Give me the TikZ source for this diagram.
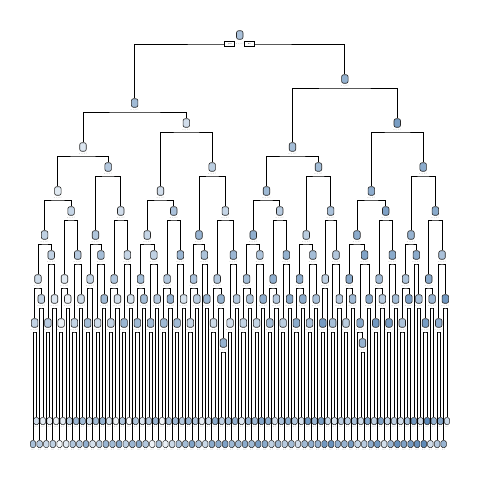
\documentclass[tikz,border=0pt]{standalone}
\definecolor{nodeblue}{RGB}{62,115,170}
\tikzset{
  innernode/.style={draw=black!85, line width=0.6pt, rounded corners=2pt, minimum width=6.5pt, minimum height=8.5pt, inner sep=0pt},
  leafnode/.style={draw=black!85, line width=0.5pt, rounded corners=1.6pt, minimum width=5.4pt, minimum height=7pt, inner sep=0pt},
  edge/.style={line width=0.75pt, black},
  tinylab/.style={font=\fontsize{1.8}{2}\selectfont, text=black!45, inner sep=0pt},
  yesno/.style={draw=black, fill=white, line width=0.6pt, minimum width=10pt, minimum height=5pt, inner sep=0pt, font=\fontsize{2}{2}\selectfont}
}
\newcount\leafctr
\begin{document}
\begin{tikzpicture}[x=1pt,y=-1pt]
\useasboundingbox (0,0) rectangle (480,480);
\fill[white] (0,0) rectangle (480,480);
\pgfmathsetseed{11}
\def\xz{33}
\def\dx{3.312}
% ---- layout of depth 6 ----
\global\leafctr=0
\foreach \jj in {0,...,63}{
  \pgfmathtruncatemacro\cval{(\jj==9||\jj==26||\jj==45||\jj==58)?1:((\jj==29||\jj==50)?3:2)}
  \edef\sval{\the\leafctr}
  \ifcase\cval\or
    \pgfmathsetmacro\xx{\xz+\sval*\dx}
  \or
    \pgfmathsetmacro\xx{\xz+(\sval+0.5)*\dx}
  \or
    \pgfmathsetmacro\xx{\xz+(\sval+0.75)*\dx}
  \fi
  \expandafter\xdef\csname nx-6-\jj\endcsname{\xx}
  \expandafter\xdef\csname cc-\jj\endcsname{\cval}
  \expandafter\xdef\csname cs-\jj\endcsname{\sval}
  \ifnum\cval=1
    \expandafter\xdef\csname cn-\jj\endcsname{leaf-\sval}
  \else
    \expandafter\xdef\csname cn-\jj\endcsname{n-6-\jj}
  \fi
  \global\advance\leafctr by \cval\relax
}
\xdef\nleaves{\the\leafctr}
% ---- layout of depths 5..0 ----
\foreach \dd in {5,4,3,2,1,0}{
  \pgfmathtruncatemacro\nmax{2^\dd-1}
  \pgfmathtruncatemacro\dn{\dd+1}
  \foreach \jj in {0,...,\nmax}{
    \pgfmathtruncatemacro\jl{2*\jj}
    \pgfmathtruncatemacro\jr{2*\jj+1}
    \edef\xa{\csname nx-\dn-\jl\endcsname}
    \edef\xb{\csname nx-\dn-\jr\endcsname}
    \pgfmathsetmacro\xx{(\xa+\xb)/2}
    \expandafter\xdef\csname nx-\dd-\jj\endcsname{\xx}
  }
}
% ---- leaves ----
\pgfmathtruncatemacro\lmax{\nleaves-1}
\foreach \ii in {0,...,\lmax}{
  \pgfmathsetmacro\xx{\xz+\ii*\dx}
  \pgfmathsetmacro\yy{mod(\ii,2)==0 ? 444 : 421}
  \pgfmathtruncatemacro\pp{max(4,min(88, 24+35*(\xx-33)/414 + 32*rand))}
  \node[leafnode, fill=nodeblue!\pp!white] (leaf-\ii) at (\xx,\yy) {};
  \node[tinylab] at (\xx,\yy+5.8) {0.5};
}
% ---- internal nodes depth 0..5 ----
\foreach \dd in {0,...,5}{
  \pgfmathtruncatemacro\nmax{2^\dd-1}
  \foreach \jj in {0,...,\nmax}{
    \edef\xx{\csname nx-\dd-\jj\endcsname}
    \pgfmathsetmacro\yy{\dd==0 ? 35 : 35+44*\dd+24*(1-mod(\jj,2))}
    \pgfmathtruncatemacro\pp{max(15,min(72, 30+28*(\xx-33)/414 + 16*rand))}
    \node[innernode, fill=nodeblue!\pp!white] (n-\dd-\jj) at (\xx,\yy) {};
    \coordinate (b-\dd-\jj) at (\xx,\yy+9);
    \ifnum\dd>0
      \node[tinylab] at (\xx,\yy+6.6) {x < 0.5};
    \fi
  }
}
% ---- depth 6 and 7 internal nodes ----
\foreach \jj in {0,...,63}{
  \edef\cval{\csname cc-\jj\endcsname}
  \edef\sval{\csname cs-\jj\endcsname}
  \edef\xx{\csname nx-6-\jj\endcsname}
  \pgfmathsetmacro\yy{35+44*6+24*(1-mod(\jj,2))}
  \pgfmathtruncatemacro\pp{max(10,min(78, 26+38*(\xx-33)/414 + 20*rand))}
  \ifnum\cval>1
    \node[innernode, fill=nodeblue!\pp!white] (n-6-\jj) at (\xx,\yy) {};
    \coordinate (b-6-\jj) at (\xx,\yy+9);
    \node[tinylab] at (\xx,\yy+6.6) {x < 0.5};
  \fi
  \ifnum\cval=3
    \pgfmathsetmacro\xs{\xz+(\sval+1.5)*\dx}
    \node[innernode, fill=nodeblue!55!white] (n7-\jj) at (\xs,343) {};
    \coordinate (b7-\jj) at (\xs,352);
    \node[tinylab] at (\xs,349.6) {x < 0.5};
  \fi
}
% ---- connectors depth 0..4 ----
\foreach \dd in {0,...,4}{
  \pgfmathtruncatemacro\nmax{2^\dd-1}
  \pgfmathtruncatemacro\dn{\dd+1}
  \foreach \jj in {0,...,\nmax}{
    \pgfmathtruncatemacro\jl{2*\jj}
    \pgfmathtruncatemacro\jr{2*\jj+1}
    \draw[edge] (n-\dn-\jl.north) |- (b-\dd-\jj) -| (n-\dn-\jr.north);
  }
}
% ---- connectors depth 5 ----
\foreach \jj in {0,...,31}{
  \pgfmathtruncatemacro\jl{2*\jj}
  \pgfmathtruncatemacro\jr{2*\jj+1}
  \edef\chl{\csname cn-\jl\endcsname}
  \edef\chr{\csname cn-\jr\endcsname}
  \draw[edge] (\chl.north) |- (b-5-\jj) -| (\chr.north);
}
% ---- connectors depth 6 / 7 ----
\foreach \jj in {0,...,63}{
  \edef\cval{\csname cc-\jj\endcsname}
  \edef\sval{\csname cs-\jj\endcsname}
  \pgfmathtruncatemacro\sa{\sval+1}
  \pgfmathtruncatemacro\sb{\sval+2}
  \ifnum\cval=2
    \draw[edge] (leaf-\sval.north) |- (b-6-\jj) -| (leaf-\sa.north);
  \fi
  \ifnum\cval=3
    \draw[edge] (leaf-\sval.north) |- (b-6-\jj) -| (n7-\jj.north);
    \draw[edge] (leaf-\sa.north) |- (b7-\jj) -| (leaf-\sb.north);
  \fi
}
% ---- root yes / no ----
\path (b-0-0) ++(-10,0) node[yesno] (yesbox) {yes};
\path (b-0-0) ++(9.5,0) node[yesno] (nobox) {no};
\node[tinylab, fill=white, inner sep=0.3pt] (rootlab) at (b-0-0) {x < 0.5};
\end{tikzpicture}
\end{document}
